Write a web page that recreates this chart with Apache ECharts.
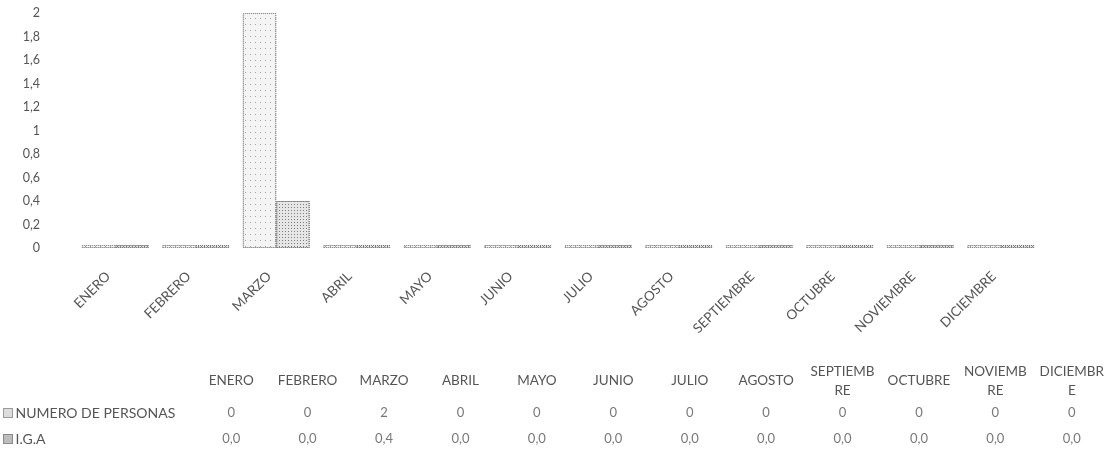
<!DOCTYPE html>
<html>
<head>
<meta charset="utf-8">
<script src="https://cdn.jsdelivr.net/npm/echarts@6/dist/echarts.min.js"></script>
<style>
  html, body { margin: 0; padding: 0; background: #ffffff; }
  #chart { width: 1110px; height: 453px; }
</style>
</head>
<body>
<div id="chart"></div>
<script>
// Months shown on the category axis and as table columns
const months = ['ENERO', 'FEBRERO', 'MARZO', 'ABRIL', 'MAYO', 'JUNIO', 'JULIO',
  'AGOSTO', 'SEPTIEMBRE', 'OCTUBRE', 'NOVIEMBRE', 'DICIEMBRE'];
// Column headings of the data table (wrapped as in the sheet)
const tableHeaders = ['ENERO', 'FEBRERO', 'MARZO', 'ABRIL', 'MAYO', 'JUNIO', 'JULIO',
  'AGOSTO', 'SEPTIEMB\nRE', 'OCTUBRE', 'NOVIEMB\nRE', 'DICIEMBR\nE'];
// Series names (table row headings)
const seriesNames = ['NUMERO DE PERSONAS', 'I.G.A'];
// Series values per month
const personas = [0, 0, 2, 0, 0, 0, 0, 0, 0, 0, 0, 0];
const iga = [0.0, 0.0, 0.4, 0.0, 0.0, 0.0, 0.0, 0.0, 0.0, 0.0, 0.0, 0.0];

const FONT = 'Lato, "Liberation Sans", sans-serif';
const TEXT = '#555555';
const comma = v => String(v).replace('.', ',');

// Cells of the data table: [column, row, value]
const tableCells = [];
months.forEach((m, i) => {
  tableCells.push([m, seriesNames[0], personas[i]]);
  tableCells.push([m, seriesNames[1], iga[i]]);
});

const chart = echarts.init(document.getElementById('chart'), null, { renderer: 'canvas' });
chart.setOption({
  backgroundColor: '#ffffff',
  animation: false,
  textStyle: { fontFamily: FONT },
  grid: [
    { left: 75, right: 69, top: 13, bottom: 205 },
    { left: 193, right: -7, top: 400, height: 52 }
  ],
  xAxis: [
    {
      type: 'category',
      data: months,
      axisLine: { show: false },
      axisTick: { show: false },
      axisLabel: {
        rotate: 45, margin: 19, interval: 0, padding: [0, 10, 0, 0],
        fontSize: 13.5, color: TEXT, fontFamily: FONT
      }
    },
    {
      type: 'category',
      gridIndex: 1,
      data: months,
      position: 'top',
      axisLine: { show: false },
      axisTick: { show: false },
      axisLabel: {
        interval: 0, margin: 19, verticalAlign: 'middle', lineHeight: 19,
        fontSize: 13.5, color: TEXT, fontFamily: FONT,
        formatter: (v, i) => tableHeaders[i]
      }
    }
  ],
  yAxis: [
    {
      type: 'value',
      min: 0, max: 2, interval: 0.2,
      splitLine: { show: false },
      axisLine: { show: false },
      axisTick: { show: false },
      axisLabel: {
        margin: 35, fontSize: 12.5, color: TEXT, fontFamily: FONT,
        formatter: v => comma(+v.toFixed(1))
      }
    },
    {
      type: 'category',
      gridIndex: 1,
      data: seriesNames,
      inverse: true,
      axisLine: { show: false },
      axisTick: { show: false },
      axisLabel: {
        align: 'left', margin: 189, fontSize: 14, color: TEXT, fontFamily: FONT,
        formatter: (v, i) => (i === 0 ? '{a|}' : '{b|}') + ' ' + v,
        rich: {
          a: { width: 8, height: 8, backgroundColor: '#dcdcdc', borderColor: '#9a9a9a', borderWidth: 1 },
          b: { width: 8, height: 8, backgroundColor: '#bdbdbd', borderColor: '#8a8a8a', borderWidth: 1 }
        }
      }
    }
  ],
  series: [
    {
      name: seriesNames[0],
      type: 'bar',
      data: personas,
      barGap: '0%',
      barCategoryGap: '17%',
      barMinHeight: 3,
      itemStyle: {
        color: '#f4f4f4',
        borderColor: '#8c8c8c',
        borderWidth: 1,
        borderType: 'dotted',
        decal: {
          symbol: 'rect', symbolSize: 1, color: 'rgba(60,60,60,0.45)',
          dashArrayX: [1, 4], dashArrayY: [1, 5]
        }
      }
    },
    {
      name: seriesNames[1],
      type: 'bar',
      data: iga,
      barMinHeight: 3,
      itemStyle: {
        color: '#e6e6e6',
        borderColor: '#777777',
        borderWidth: 1,
        borderType: 'dotted',
        decal: {
          symbol: 'rect', symbolSize: 1, color: 'rgba(40,40,40,0.55)',
          dashArrayX: [1, 2], dashArrayY: [1, 2]
        }
      }
    },
    {
      name: 'tabla',
      type: 'scatter',
      xAxisIndex: 1,
      yAxisIndex: 1,
      data: tableCells,
      symbolSize: 1,
      itemStyle: { color: 'rgba(0,0,0,0)' },
      label: {
        show: true, position: 'inside', fontSize: 13, color: TEXT, fontFamily: FONT,
        formatter: p => p.value[1] === seriesNames[0]
          ? String(p.value[2])
          : comma(p.value[2].toFixed(1))
      },
      silent: true
    }
  ]
});
</script>
</body>
</html>
